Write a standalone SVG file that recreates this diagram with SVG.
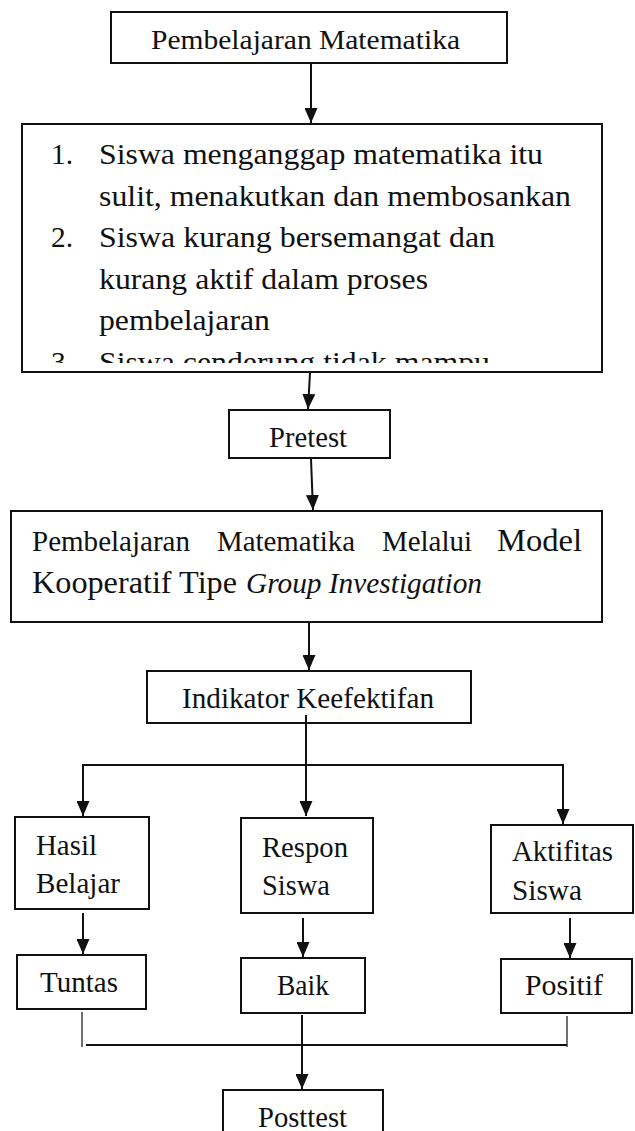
<svg xmlns="http://www.w3.org/2000/svg" width="635" height="1131" viewBox="0 0 635 1131">
<style>
.box{fill:#fff;stroke:#111;stroke-width:2}
.t{font-family:"Liberation Serif","Times New Roman",Times,serif;fill:#111}
.s27{font-size:27px}
.s29{font-size:29px}
.s30{font-size:30px}
.s32{font-size:32px}
.it{font-style:italic}
.c{fill:none;stroke:#111;stroke-width:2}
.thin{fill:none;stroke:#111;stroke-width:1.2}
</style>
<defs>
<marker id="ah" viewBox="0 0 15 13" refX="15" refY="6.5" markerWidth="15" markerHeight="13" markerUnits="userSpaceOnUse" orient="auto">
<path d="M0,0 L15,6.5 L0,13 z" fill="#111"/>
</marker>
<clipPath id="listclip"><rect x="23" y="125" width="578" height="238"/></clipPath>
</defs>
<rect width="635" height="1131" fill="#fff"/>

<g id="n1">
<rect class="box" x="111" y="12" width="396" height="51"/>
<text class="t s27" x="151" y="49" textLength="309" lengthAdjust="spacingAndGlyphs">Pembelajaran Matematika</text>
</g>

<g id="n2">
<rect class="box" x="22" y="124" width="580" height="248"/>
<g clip-path="url(#listclip)">
<text class="t s30" x="51" y="164" textLength="22" lengthAdjust="spacingAndGlyphs">1.</text>
<text class="t s30" x="99" y="164" textLength="444" lengthAdjust="spacingAndGlyphs">Siswa menganggap matematika itu</text>
<text class="t s30" x="99" y="206" textLength="472" lengthAdjust="spacingAndGlyphs">sulit, menakutkan dan membosankan</text>
<text class="t s30" x="51" y="247" textLength="22" lengthAdjust="spacingAndGlyphs">2.</text>
<text class="t s30" x="99" y="247" textLength="396" lengthAdjust="spacingAndGlyphs">Siswa kurang bersemangat dan</text>
<text class="t s30" x="99" y="289" textLength="329" lengthAdjust="spacingAndGlyphs">kurang aktif dalam proses</text>
<text class="t s30" x="99" y="330" textLength="171" lengthAdjust="spacingAndGlyphs">pembelajaran</text>
<text class="t s30" x="51" y="372" textLength="22" lengthAdjust="spacingAndGlyphs">3.</text>
<text class="t s30" x="99" y="372" textLength="391" lengthAdjust="spacingAndGlyphs">Siswa cenderung tidak mampu</text>
</g>
</g>

<g id="n3">
<rect class="box" x="229" y="410" width="161" height="48"/>
<text class="t s29" x="269" y="447" textLength="78" lengthAdjust="spacingAndGlyphs">Pretest</text>
</g>

<g id="n4">
<rect class="box" x="11" y="511" width="591" height="111"/>
<text class="t s29" x="32" y="551" textLength="158" lengthAdjust="spacingAndGlyphs">Pembelajaran</text>
<text class="t s29" x="217" y="551" textLength="138" lengthAdjust="spacingAndGlyphs">Matematika</text>
<text class="t s29" x="382" y="551" textLength="90" lengthAdjust="spacingAndGlyphs">Melalui</text>
<text class="t s32" x="497" y="551" textLength="85" lengthAdjust="spacingAndGlyphs">Model</text>
<text class="t s32" x="32" y="593" textLength="205" lengthAdjust="spacingAndGlyphs">Kooperatif Tipe</text>
<text class="t s29 it" x="246" y="593" textLength="236" lengthAdjust="spacingAndGlyphs">Group Investigation</text>
</g>

<g id="n5">
<rect class="box" x="147" y="671" width="324" height="52"/>
<text class="t s29" x="182" y="708" textLength="252" lengthAdjust="spacingAndGlyphs">Indikator Keefektifan</text>
</g>

<g id="n6">
<rect class="box" x="15" y="817" width="134" height="92"/>
<text class="t s29" x="36" y="855" textLength="61" lengthAdjust="spacingAndGlyphs">Hasil</text>
<text class="t s29" x="36" y="893" textLength="84" lengthAdjust="spacingAndGlyphs">Belajar</text>
</g>

<g id="n7">
<rect class="box" x="241" y="818" width="132" height="95"/>
<text class="t s29" x="262" y="857" textLength="86" lengthAdjust="spacingAndGlyphs">Respon</text>
<text class="t s29" x="262" y="895" textLength="68" lengthAdjust="spacingAndGlyphs">Siswa</text>
</g>

<g id="n8">
<rect class="box" x="491" y="825" width="142" height="88"/>
<text class="t s29" x="512" y="861" textLength="101" lengthAdjust="spacingAndGlyphs">Aktifitas</text>
<text class="t s29" x="512" y="900" textLength="70" lengthAdjust="spacingAndGlyphs">Siswa</text>
</g>

<g id="n9">
<rect class="box" x="17" y="955" width="129" height="54"/>
<text class="t s29" x="40" y="992" textLength="78" lengthAdjust="spacingAndGlyphs">Tuntas</text>
</g>

<g id="n10">
<rect class="box" x="241" y="958" width="124" height="55"/>
<text class="t s29" x="277" y="995" textLength="52" lengthAdjust="spacingAndGlyphs">Baik</text>
</g>

<g id="n11">
<rect class="box" x="501" y="959" width="131" height="54"/>
<text class="t s29" x="525" y="995" textLength="78" lengthAdjust="spacingAndGlyphs">Positif</text>
</g>

<g id="n12">
<rect class="box" x="223" y="1090" width="160" height="60"/>
<text class="t s29" x="258" y="1127" textLength="89" lengthAdjust="spacingAndGlyphs">Posttest</text>
</g>

<g id="connectors">
<line class="c" x1="311" y1="63" x2="311" y2="123" marker-end="url(#ah)"/>
<line class="c" x1="310" y1="373" x2="308" y2="409" marker-end="url(#ah)"/>
<line class="c" x1="311" y1="459" x2="313" y2="510" marker-end="url(#ah)"/>
<line class="c" x1="309" y1="623" x2="309" y2="670" marker-end="url(#ah)"/>
<line class="c" x1="306" y1="715" x2="306" y2="816" marker-end="url(#ah)"/>
<path class="c" d="M306,765 H83 V816" marker-end="url(#ah)"/>
<path class="c" d="M306,765 H563 V824" marker-end="url(#ah)"/>
<line class="c" x1="83" y1="913" x2="83" y2="954" marker-end="url(#ah)"/>
<line class="c" x1="303" y1="918" x2="303" y2="957" marker-end="url(#ah)"/>
<line class="c" x1="570" y1="918" x2="570" y2="958" marker-end="url(#ah)"/>
<line class="thin" x1="82" y1="1012" x2="82" y2="1047"/>
<line class="thin" x1="567" y1="1016" x2="567" y2="1047"/>
<line class="c" x1="86" y1="1045" x2="567" y2="1045"/>
<line class="c" x1="302" y1="1015" x2="302" y2="1089" marker-end="url(#ah)"/>
</g>
</svg>
